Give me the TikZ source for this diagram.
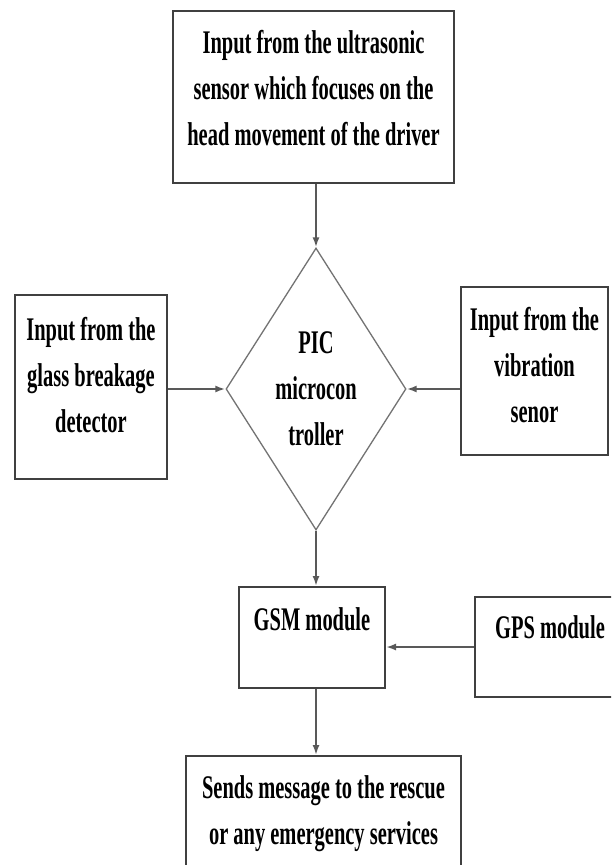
\documentclass[tikz,border=0pt]{standalone}
\usepackage{fontspec}
\setmainfont[FakeStretch=0.62]{Liberation Serif}
\usetikzlibrary{shapes.geometric,arrows.meta}

\tikzset{
  blk/.style={draw=black!75,line width=2pt,inner sep=0pt,align=center,
    font=\bfseries\fontsize{33}{46}\selectfont},
  dec/.style={diamond,draw=black!55,line width=1.3pt,inner sep=0pt,aspect=0.64,
    align=center,font=\bfseries\fontsize{33}{46}\selectfont},
  arr/.style={draw=black!65,line width=2pt,-{Latex[length=10pt,width=7pt]}}
}

\begin{document}
\begin{tikzpicture}[x=1pt,y=-1pt]
\fill[white] (0,0) rectangle (611,865);
\useasboundingbox (0,0) rectangle (611,865);
\clip (0,0) rectangle (611,865);

\node[blk,minimum width=281pt,minimum height=172pt,text depth=19pt] (ultra) at (313.5,97)
  {Input from the ultrasonic\\sensor which focuses on the\\head movement of the driver};
\node[dec,minimum width=180pt,minimum height=282pt] (pic) at (316,389)
  {PIC\\microcon\\troller};
\node[blk,minimum width=152pt,minimum height=184pt,text depth=24pt] (glass) at (91,387)
  {Input from the\\glass breakage\\detector};
\node[blk,minimum width=147pt,minimum height=168pt,text depth=12pt] (vib) at (534.5,371)
  {Input from the\\vibration\\senor};
\node[blk,minimum width=146pt,minimum height=101pt,text depth=37pt] (gsm) at (312,637.5)
  {GSM module};
\node[blk,minimum width=150pt,minimum height=100pt,text depth=40pt] (gps) at (550,647)
  {GPS module};
\node[blk,minimum width=275pt,minimum height=119pt,text depth=10pt] (rescue) at (323.5,815.5)
  {Sends message to the rescue\\or any emergency services};

% connectors
\draw[arr] (ultra.south -| pic.north) -- (pic.north);
\draw[arr] (glass.east |- pic.west) -- (pic.west);
\draw[arr] (vib.west |- pic.east) -- (pic.east);
\draw[arr] (pic.south) -- (pic.south |- gsm.north);
\draw[arr] (gps.west) -- (gps.west -| gsm.east);
\draw[arr] (pic.south |- gsm.south) -- (pic.south |- rescue.north);
\end{tikzpicture}
\end{document}
